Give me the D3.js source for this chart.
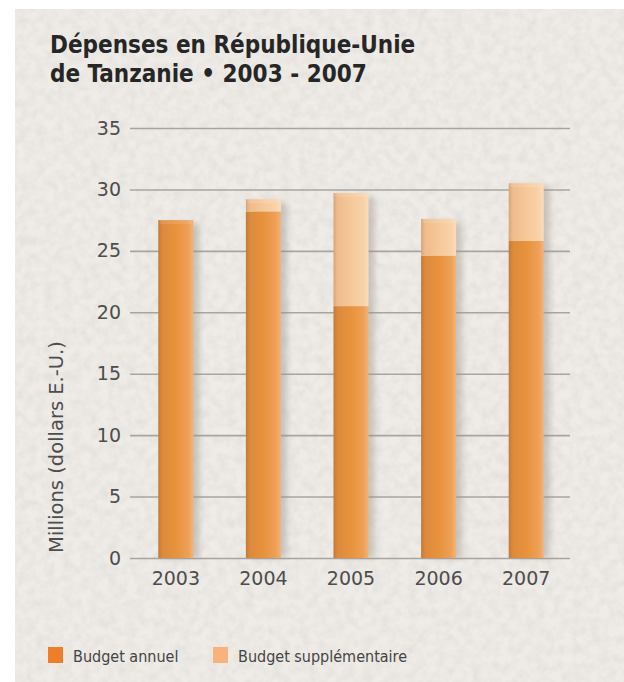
<!DOCTYPE html>
<html><head><meta charset="utf-8">
<script src="https://cdn.jsdelivr.net/npm/d3@7"></script>
<style>body{margin:0;background:#fff;} svg{display:block;}</style>
</head><body>
<svg id="c" width="624" height="682"></svg>
<script>
const years = ["2003","2004","2005","2006","2007"];
const annuel = [27.5, 28.2, 20.5, 24.6, 25.8];
const supplementaire = [0, 1.0, 9.2, 3.0, 4.7];
const yTicks = [0,5,10,15,20,25,30,35];
const titleLines = ["Dépenses en République-Unie","de Tanzanie • 2003 - 2007"];
const yLabel = "Millions (dollars E.-U.)";
const legendLabels = ["Budget annuel","Budget supplémentaire"];

const svg = d3.select("#c");
const defs = svg.append("defs");

// paper texture
const f = defs.append("filter").attr("id","paper").attr("x",0).attr("y",0).attr("width","100%").attr("height","100%");
f.append("feTurbulence").attr("type","fractalNoise").attr("baseFrequency","0.11").attr("numOctaves",3).attr("seed",5).attr("result","n");
f.append("feColorMatrix").attr("in","n").attr("type","matrix")
 .attr("values","0 0 0 0 0.55  0 0 0 0 0.54  0 0 0 0 0.52  0 0 0 -1.1 0.72").attr("result","cm");
f.append("feComposite").attr("in","cm").attr("in2","SourceGraphic").attr("operator","over");

svg.append("rect").attr("x",15).attr("y",9).attr("width",609).attr("height",673).attr("fill","#efece7");
svg.append("rect").attr("x",15).attr("y",9).attr("width",609).attr("height",673).attr("fill","#efece7").attr("filter","url(#paper)").attr("opacity",0.45);

function grad(id, stops){
  const g = defs.append("linearGradient").attr("id",id).attr("x1","0").attr("x2","1").attr("y1","0").attr("y2","0");
  stops.forEach(s=>g.append("stop").attr("offset",s[0]).attr("stop-color",s[1]));
}
grad("gA",[[0,"#c27a3a"],[0.12,"#dc8a3c"],[0.5,"#e8923c"],[0.85,"#eda056"],[1,"#f2b478"]]);
grad("gS",[[0,"#d8a57a"],[0.12,"#eebc8d"],[0.5,"#f6c898"],[0.85,"#f8d2a8"],[1,"#fadcbb"]]);
const sh = defs.append("filter").attr("id","sh").attr("x","-20%").attr("y","-10%").attr("width","160%").attr("height","120%");
sh.append("feGaussianBlur").attr("stdDeviation",3);

const x = d3.scaleBand().domain(years).range([132,570]).paddingInner(0.6).paddingOuter(0.3);
const y = d3.scaleLinear().domain([0,35]).range([558,128]);

// grid
const gy = svg.append("g").attr("transform","translate(130,0)")
  .call(d3.axisLeft(y).tickValues(yTicks).tickSize(-440).tickPadding(9));
gy.select(".domain").remove();
gy.selectAll(".tick line").attr("stroke","#a9a49e").attr("stroke-width",1.6);
gy.selectAll(".tick text").attr("font-family","DejaVu Sans").attr("font-size",19).attr("fill","#4d4d4d").attr("x",-9);

const data = years.map((yr,i)=>({yr, a:annuel[i], s:supplementaire[i]}));

// shadows
svg.append("g").selectAll("rect").data(data).join("rect")
  .attr("x",d=>x(d.yr)+6).attr("width",x.bandwidth())
  .attr("y",d=>y(d.a+d.s)+3).attr("height",d=>y(0)-y(d.a+d.s)-3)
  .attr("fill","#9a948c").attr("opacity",0.45).attr("filter","url(#sh)");

// annual
svg.append("g").selectAll("rect").data(data).join("rect")
  .attr("x",d=>x(d.yr)).attr("width",x.bandwidth())
  .attr("y",d=>y(d.a)).attr("height",d=>y(0)-y(d.a))
  .attr("fill","url(#gA)");
// supplement
svg.append("g").selectAll("rect").data(data.filter(d=>d.s>0)).join("rect")
  .attr("x",d=>x(d.yr)).attr("width",x.bandwidth())
  .attr("y",d=>y(d.a+d.s)).attr("height",d=>y(d.a)-y(d.a+d.s))
  .attr("fill","url(#gS)");
// top highlight cap
svg.append("g").selectAll("rect").data(data).join("rect")
  .attr("x",d=>x(d.yr)+1).attr("width",x.bandwidth()-2)
  .attr("y",d=>y(d.a+d.s)).attr("height",4).attr("rx",2)
  .attr("fill","#fff").attr("opacity",0.12);

// x axis labels
const gx = svg.append("g").attr("transform","translate(0,558)")
  .call(d3.axisBottom(x).tickSize(0).tickPadding(14));
gx.select(".domain").remove();
gx.selectAll(".tick text").attr("font-family","DejaVu Sans").attr("font-size",19).attr("fill","#4d4d4d");

// y label
svg.append("text").attr("transform","translate(63,447) rotate(-90)")
  .attr("text-anchor","middle").attr("font-family","DejaVu Sans").attr("font-size",19.5).attr("fill","#4d4d4d")
  .text(yLabel);

// title
svg.append("g").selectAll("text").data(titleLines).join("text")
  .attr("x",50).attr("y",(d,i)=>53+i*29)
  .attr("font-family","DejaVu Sans Condensed, DejaVu Sans").attr("font-stretch","condensed")
  .attr("font-weight",700).attr("font-size",24).attr("fill","#262626")
  .text(d=>d);

// legend
const lg = svg.append("g");
const lcol = ["#ef7d2a","#f9b27c"];
const lx = [48,213];
legendLabels.forEach((t,i)=>{
  lg.append("rect").attr("x",lx[i]).attr("y",647).attr("width",15).attr("height",16).attr("fill",lcol[i]);
  lg.append("text").attr("x",lx[i]+25).attr("y",662).attr("font-family","DejaVu Sans Condensed, DejaVu Sans").attr("font-stretch","condensed")
    .attr("font-size",16).attr("fill","#444").text(t);
});
</script>
</body></html>
